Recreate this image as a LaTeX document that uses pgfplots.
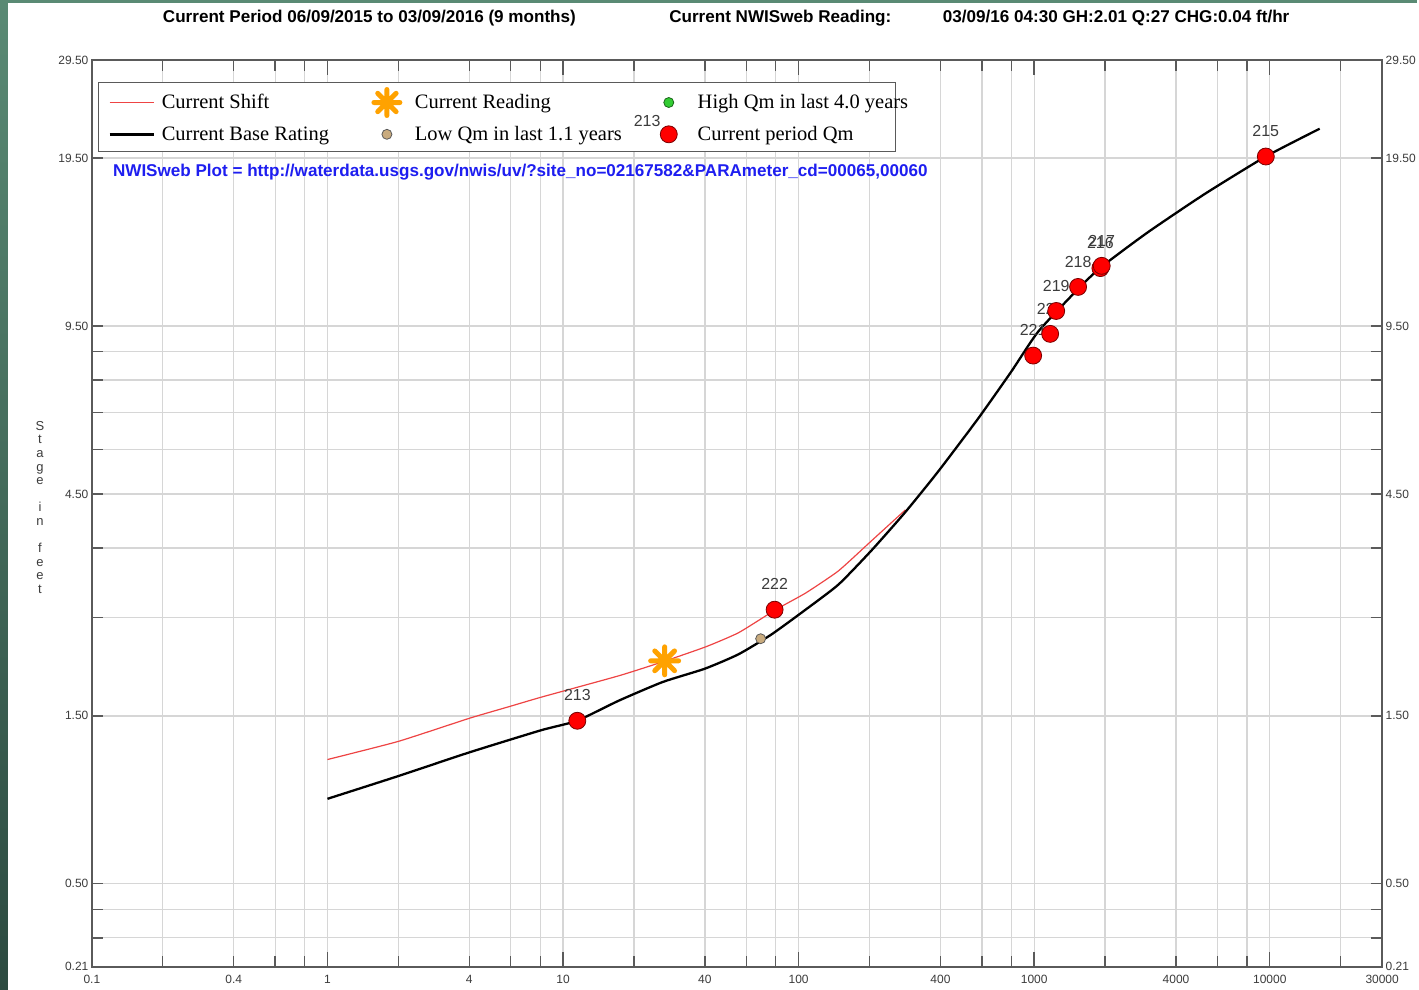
\documentclass[border=0pt]{standalone}
\usepackage{pgfplots}
\pgfplotsset{compat=1.18}
\usepackage{pgfplotstable}
\usepackage{fontspec}
\setmainfont{Liberation Serif}
\newfontfamily\arial{Liberation Sans}
\definecolor{gridgray}{HTML}{D6D6D6}
\definecolor{axgray}{HTML}{5A5A5A}
\definecolor{lblgray}{HTML}{3C3C3C}
\definecolor{shiftred}{HTML}{EE4444}
\definecolor{ptred}{HTML}{FF0000}
\definecolor{ptedge}{HTML}{7A0000}
\definecolor{orangestar}{HTML}{FFA200}
\definecolor{tanpt}{HTML}{C9AB7E}
\definecolor{greenpt}{HTML}{33CC33}
\definecolor{greenedge}{HTML}{1A661A}
\definecolor{urlblue}{HTML}{1E1EF0}
\definecolor{slidetop}{HTML}{5A8A74}
\definecolor{slidebot}{HTML}{2C4A40}

\pgfdeclareplotmark{sun}{%
  \pgfsetroundcap
  \pgfpathmoveto{\pgfqpoint{-\pgfplotmarksize}{0pt}}\pgfpathlineto{\pgfqpoint{\pgfplotmarksize}{0pt}}%
  \pgfpathmoveto{\pgfqpoint{0pt}{-\pgfplotmarksize}}\pgfpathlineto{\pgfqpoint{0pt}{\pgfplotmarksize}}%
  \pgfpathmoveto{\pgfpoint{-0.7071\pgfplotmarksize}{-0.7071\pgfplotmarksize}}\pgfpathlineto{\pgfpoint{0.7071\pgfplotmarksize}{0.7071\pgfplotmarksize}}%
  \pgfpathmoveto{\pgfpoint{-0.7071\pgfplotmarksize}{0.7071\pgfplotmarksize}}\pgfpathlineto{\pgfpoint{0.7071\pgfplotmarksize}{-0.7071\pgfplotmarksize}}%
  \pgfusepathqstroke
}

\pgfplotsset{
  markimg/.style={legend image code/.code={\path[draw=none,fill=none] (0pt,0pt) -- (28pt,0pt);\draw[mark repeat=2,mark phase=2,##1] plot coordinates {(0pt,0pt) (14pt,0pt) (28pt,0pt)};}},
  redlineimg/.style={legend image code/.code={\draw[shiftred, line width=1.3pt] (0pt,0pt) -- (44pt,0pt);}},
  blacklineimg/.style={legend image code/.code={\draw[black, line width=2.4pt] (0pt,0pt) -- (44pt,0pt);}},
}

% Current base rating (discharge in ft3/s, stage in feet)
\pgfplotstableread{
Q stage
1 0.92
2.0 1.06
4.0 1.22
8.07 1.385
11.46 1.46
17.27 1.63
26.5 1.80
40 1.93
55.7 2.08
76.8 2.30
107 2.60
147.7 2.94
203.9 3.46
284 4.14
392 4.99
579 6.33
799 7.78
1040 9.27
1536 11.15
1922 12.25
3041 14.23
5300 16.75
9617 19.63
16290 22.08
}\baserating

% Current shift curve
\pgfplotstableread{
Q stage
1 1.17
2.0 1.30
4.0 1.48
5.96 1.58
8.07 1.66
17.27 1.86
26.5 2.00
40.4 2.16
55.7 2.32
79.9 2.60
107 2.82
147.7 3.14
203.9 3.62
284 4.18
}\shiftcurve

% Current period measurements
\pgfplotstableread{
Q stage label
11.5 1.46 213
79.1 2.60 222
990 8.35 221
1169 9.18 220
1240 10.14 219
1536 11.25 218
1910 12.20 216
1935 12.32 217
9620 19.63 215
}\qmdata

\begin{document}
\begin{tikzpicture}[x=1pt,y=1pt]
\fill[white] (0,0) rectangle (1419,991);
\shade[top color=slidetop, bottom color=slidebot] (0,0) rectangle (8,991);
\fill[slidetop] (0,988) rectangle (1419,991);

\begin{axis}[
  at={(92pt,23pt)}, anchor=south west,
  scale only axis, width=1292pt, height=908pt,
  xmode=log, xmin=0.1, xmax=30000,
  ymin=0.21, ymax=29.5,
  y coord trafo/.code={\pgfmathparse{ln(#1+0.5)}},
  y coord inv trafo/.code={\pgfmathparse{exp(#1)-0.5}},
  axis line style={axgray, line width=1.6pt},
  xtick={0.1,0.2,0.4,0.6,0.8,1,2,4,6,8,10,20,40,60,80,100,200,400,600,800,1000,2000,4000,6000,8000,10000,20000,30000},
  xticklabels={0.1,,0.4,,,1,,4,,,10,,40,,,100,,400,,,1000,,4000,,,10000,,30000},
  minor xtick={},
  extra x ticks={1,10,100,1000,10000},
  extra x tick labels={},
  extra x tick style={major tick length=15pt, grid=none, xticklabel={}},
  ytick={0.21,0.3,0.4,0.5,1.5,2.5,3.5,4.5,5.5,6.5,7.5,8.5,9.5,19.5,29.5},
  yticklabels={0.21,,,0.50,1.50,,,4.50,,,,,9.50,19.50,29.50},
  tick align=inside,
  xtick pos=both, ytick pos=both,
  major tick length=11pt,
  tick style={axgray, line width=1.4pt},
  grid=major,
  major grid style={gridgray, line width=1.3pt},
  tick label style={font=\arial\fontsize{12}{12}\selectfont, text=lblgray},
  xticklabel style={yshift=-5pt},
  legend columns=3,
  legend cell align=left,
  legend style={at={(rel axis cs:0,1)}, anchor=north west, xshift=6pt, yshift=-22pt,
    draw=axgray, line width=1.3pt, fill=white,
    font=\fontsize{20.5}{24}\selectfont,
    inner xsep=10pt, inner ysep=7pt, row sep=9pt,
    /tikz/column 1/.style={column sep=5pt},
    /tikz/column 2/.style={column sep=42pt},
    /tikz/column 3/.style={column sep=12pt},
    /tikz/column 4/.style={column sep=31pt},
    /tikz/column 5/.style={column sep=13pt}},
]
\addlegendimage{redlineimg}
\addlegendentry{Current Shift}
\addlegendimage{only marks, mark=sun, mark size=13pt, mark options={draw=orangestar, line width=5pt}, markimg}
\addlegendentry{Current Reading}
\addlegendimage{only marks, mark=*, mark size=5pt, mark options={fill=greenpt, draw=greenedge, line width=0.8pt}, markimg}
\addlegendentry{\makebox[186pt][l]{High Qm in last 4.0 years}}
\addlegendimage{blacklineimg}
\addlegendentry{Current Base Rating}
\addlegendimage{only marks, mark=*, mark size=5pt, mark options={fill=tanpt, draw=axgray, line width=0.8pt}, markimg}
\addlegendentry{Low Qm in last 1.1 years}
\addlegendimage{only marks, mark=*, mark size=8.5pt, mark options={fill=ptred, draw=ptedge, line width=0.8pt}, markimg}
\addlegendentry{Current period Qm}

\addplot[shiftred, line width=1.2pt, smooth, tension=0.3, forget plot] table[x=Q, y=stage] {\shiftcurve};
\addplot[black, line width=2.3pt, smooth, tension=0.35, forget plot] table[x=Q, y=stage] {\baserating};
\addplot[only marks, mark=*, mark size=5pt, mark options={fill=tanpt, draw=axgray, line width=0.8pt}, forget plot]
  coordinates {(69,2.25)};
\addplot[only marks, mark=sun, mark size=14pt, mark options={draw=orangestar, line width=5pt}, forget plot]
  coordinates {(27,2.01)};
\addplot[only marks, mark=*, mark size=8.5pt, mark options={fill=ptred, draw=ptedge, line width=0.8pt},
  point meta=explicit symbolic, nodes near coords,
  every node near coord/.append style={font=\arial\fontsize{16}{16}\selectfont, text=lblgray, yshift=16pt},
  forget plot]
  table[x=Q, y=stage, meta=label] {\qmdata};
\end{axis}

\begin{axis}[
  at={(92pt,23pt)}, anchor=south west,
  scale only axis, width=1292pt, height=908pt,
  xmode=log, xmin=0.1, xmax=30000,
  ymin=0.21, ymax=29.5,
  y coord trafo/.code={\pgfmathparse{ln(#1+0.5)}},
  y coord inv trafo/.code={\pgfmathparse{exp(#1)-0.5}},
  axis x line=none, axis y line*=right,
  y axis line style={draw=none},
  ytick={0.21,0.5,1.5,4.5,9.5,19.5,29.5},
  yticklabels={0.21,0.50,1.50,4.50,9.50,19.50,29.50},
  major tick length=0pt,
  tick label style={font=\arial\fontsize{12}{12}\selectfont, text=lblgray},
]
\end{axis}

\node[anchor=west, inner sep=0pt, font=\arial\bfseries\fontsize{17.1}{19}\selectfont] at (163,973)
  {Current Period 06/09/2015 to 03/09/2016 (9 months)};
\node[anchor=west, inner sep=0pt, font=\arial\bfseries\fontsize{17.1}{19}\selectfont] at (670,973)
  {Current NWISweb Reading:};
\node[anchor=west, inner sep=0pt, font=\arial\bfseries\fontsize{17.1}{19}\selectfont] at (944,973)
  {03/09/16 04:30 GH:2.01 Q:27 CHG:0.04 ft/hr};
\node[anchor=west, inner sep=0pt, text=urlblue, font=\arial\bfseries\fontsize{17.1}{19}\selectfont] at (113,819)
  {NWISweb Plot = http://waterdata.usgs.gov/nwis/uv/?site\_no=02167582\&PARAmeter\_cd=00065,00060};
\node[font=\arial\fontsize{16}{16}\selectfont, text=lblgray] at (648,870) {213};
\node[font=\arial\fontsize{13}{13.6}\selectfont, text=lblgray, align=center] at (40,483)
  {S\\t\\a\\g\\e\\\mbox{}\\i\\n\\\mbox{}\\f\\e\\e\\t};
\end{tikzpicture}
\end{document}
